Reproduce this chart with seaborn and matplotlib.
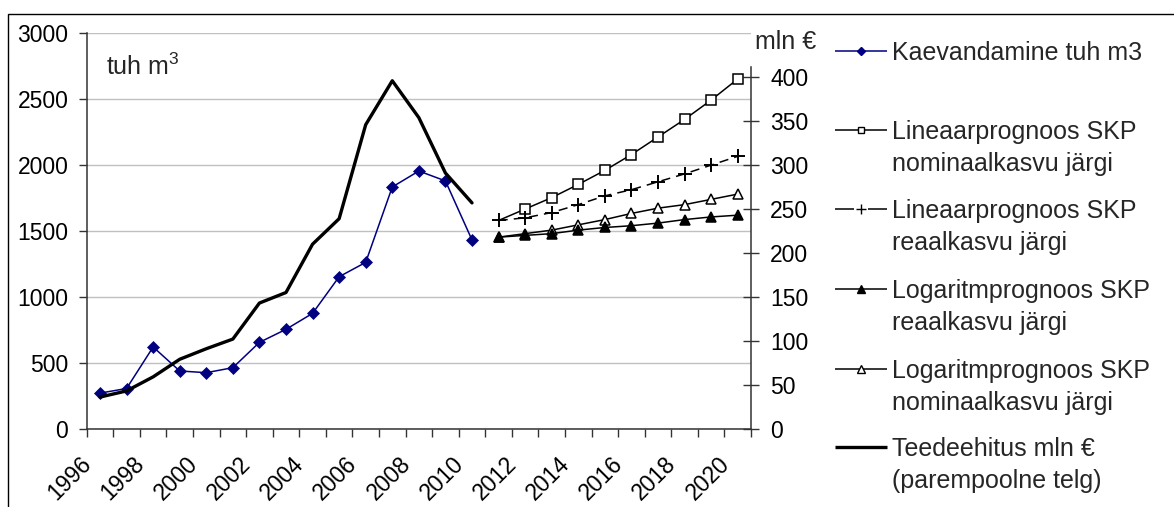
import numpy as np
import matplotlib
matplotlib.use("Agg")
import matplotlib.pyplot as plt
from matplotlib.lines import Line2D
from matplotlib.patches import Rectangle
import seaborn as sns

# Excavation (thousand m3, left axis) and road construction (mln EUR, right axis)
years_hist = list(range(1996, 2011))
kaevandamine = [270, 305, 620, 438, 425, 463, 655, 754, 875, 1153, 1262, 1834, 1955, 1880, 1432]
teedeehitus = [36, 43, 59, 79, 91, 102, 143, 155, 210, 239, 346, 396, 354, 291, 257]

# Forecasts of road construction (mln EUR, right axis)
years_fc = list(range(2011, 2021))
lin_nominal = [237, 250, 263, 278, 294, 312, 332, 352, 374, 398]
lin_real = [237, 240, 246, 255, 265, 272, 281, 290, 300, 310]
log_nominal = [218, 222, 226, 232, 238, 245, 251, 255, 261, 267]
log_real = [218, 220, 222, 226, 229, 231, 234, 238, 241, 243]

left_ticks = [0, 500, 1000, 1500, 2000, 2500, 3000]
right_ticks = [0, 50, 100, 150, 200, 250, 300, 350, 400]
year_labels = list(range(1996, 2021, 2))

legend_labels = [
    ["Kaevandamine tuh m3"],
    ["Lineaarprognoos SKP", "nominaalkasvu järgi"],
    ["Lineaarprognoos SKP", "reaalkasvu järgi"],
    ["Logaritmprognoos SKP", "reaalkasvu järgi"],
    ["Logaritmprognoos SKP", "nominaalkasvu järgi"],
    ["Teedeehitus mln €", "(parempoolne telg)"],
]

sns.set_theme(style="white")
plt.rcParams["font.family"] = ["Liberation Sans", "DejaVu Sans"]
plt.rcParams["mathtext.fontset"] = "custom"
plt.rcParams["mathtext.rm"] = "Liberation Sans"
plt.rcParams["mathtext.default"] = "regular"

W, H = 1174, 507
NAVY = "#000080"
AXC = "#333333"
TICK_FS = 16.5


def fx(x):
    return x / W


def fy(y):
    return 1 - y / H


fig = plt.figure(figsize=(W / 100, H / 100), dpi=100)
fig.patch.set_facecolor("white")
ax = fig.add_axes([fx(86.7), fy(428.7), (751 - 86.7) / W, (428.7 - 33.3) / H])
ax2 = ax.twinx()

# left axis series
sns.lineplot(x=years_hist, y=kaevandamine, ax=ax, color=NAVY, linewidth=1.1,
             marker="D", markersize=6.5, markerfacecolor=NAVY,
             markeredgecolor=NAVY, markeredgewidth=0.5, errorbar=None)

# right axis series
sns.lineplot(x=years_hist, y=teedeehitus, ax=ax2, color="black",
             linewidth=2.4, errorbar=None)
sns.lineplot(x=years_fc, y=lin_nominal, ax=ax2, color="black", linewidth=1.1,
             marker="s", markersize=6.5, markerfacecolor="white",
             markeredgecolor="black", markeredgewidth=1.1,
             markevery=list(range(1, len(years_fc))), errorbar=None)
sns.lineplot(x=years_fc, y=lin_real, ax=ax2, color="black", linewidth=1.1,
             linestyle=(0, (6, 4)), marker="+", markersize=10,
             markeredgecolor="black", markeredgewidth=1.4, errorbar=None)
sns.lineplot(x=years_fc, y=log_nominal, ax=ax2, color="black", linewidth=1.1,
             marker="^", markersize=7.5, markerfacecolor="white",
             markeredgecolor="black", markeredgewidth=1.1, errorbar=None)
sns.lineplot(x=years_fc, y=log_real, ax=ax2, color="black", linewidth=1.1,
             marker="^", markersize=7.5, markerfacecolor="black",
             markeredgecolor="black", markeredgewidth=1.1, errorbar=None)

# axes limits and ticks
ax.set_xlim(1995.5, 2020.5)
ax.set_ylim(0, 3000)
ax2.set_ylim(0, 450)
ax.set_yticks(left_ticks)
ax2.set_yticks(right_ticks)
ax.set_xticks(np.arange(1995.5, 2021, 1.0))
ax.set_xticklabels([])
ax.set_xticks([y - 0.45 for y in year_labels], minor=True)
ax.set_xticklabels([str(y) for y in year_labels], minor=True)
for lab in ax.get_xticklabels(minor=True):
    lab.set_rotation(45)
    lab.set_ha("right")
    lab.set_va("center")
    lab.set_rotation_mode("anchor")

ax.tick_params(axis="x", which="major", direction="out", length=5.8,
               width=1, color=AXC, bottom=True)
ax.tick_params(axis="x", which="minor", length=0, pad=23, labelsize=TICK_FS,
               bottom=True, labelcolor="black")
ax.tick_params(axis="y", direction="out", length=5.8, width=1, color=AXC,
               pad=7.4, labelsize=TICK_FS, left=True, labelcolor="black")
ax2.tick_params(axis="y", direction="inout", length=11.5, width=1, color=AXC,
                pad=8, labelsize=TICK_FS, right=True, labelcolor="black")

for a in (ax, ax2):
    a.set_xlabel("")
    a.set_ylabel("")
    for s in a.spines.values():
        s.set_visible(False)
ax.spines["left"].set_visible(True)
ax.spines["bottom"].set_visible(True)
ax2.spines["right"].set_visible(True)
for s in (ax.spines["left"], ax.spines["bottom"], ax2.spines["right"]):
    s.set_color(AXC)
    s.set_linewidth(1.1)
ax2.spines["right"].set_bounds(0, 412)

ax.yaxis.grid(True, color="#c0c0c0", linewidth=1)
ax.xaxis.grid(False)
ax2.grid(False)
ax.set_axisbelow(True)

# unit labels
fig.text(fx(106), fy(75), r"tuh m$^3$", fontsize=18, ha="left", va="baseline")
fig.text(fx(755), fy(49), "mln €", fontsize=18, ha="left", va="baseline")

# legend drawn beside the plot area
entry_y = [50.5, 130.4, 208.7, 288.7, 368.7, 447]
hx0, hx1, hxm = 835, 887, 861
styles = [
    dict(color=NAVY, lw=1.1, marker="D", ms=4.5, mfc=NAVY, mec=NAVY),
    dict(color="black", lw=1.1, marker="s", ms=5, mfc="white", mec="black"),
    dict(color="black", lw=1.1, marker="+", ms=7, mfc="black", mec="black", gap=True),
    dict(color="black", lw=1.1, marker="^", ms=5.5, mfc="black", mec="black"),
    dict(color="black", lw=1.1, marker="^", ms=5.5, mfc="white", mec="black"),
    dict(color="black", lw=2.4, marker=None),
]
for yc, lines, st in zip(entry_y, legend_labels, styles):
    if st.get("gap"):
        segs = [(hx0, hxm - 7), (hxm + 7, hx1)]
    else:
        segs = [(hx0, hx1)]
    for a0, a1 in segs:
        fig.add_artist(Line2D([fx(a0), fx(a1)], [fy(yc), fy(yc)],
                              transform=fig.transFigure, color=st["color"],
                              linewidth=st["lw"], solid_capstyle="butt"))
    if st["marker"]:
        fig.add_artist(Line2D([fx(hxm)], [fy(yc)], transform=fig.transFigure,
                              linestyle="none", marker=st["marker"],
                              markersize=st["ms"], markerfacecolor=st["mfc"],
                              markeredgecolor=st["mec"], markeredgewidth=1.0))
    for i, line in enumerate(lines):
        fig.text(fx(892), fy(yc + 9 + 32 * i), line, fontsize=18,
                 ha="left", va="baseline")

# chart frame
fig.add_artist(Rectangle((fx(8), fy(600)), 2.0, (600 - 14) / H,
                         transform=fig.transFigure, fill=False,
                         edgecolor="black", linewidth=1, clip_on=False))

fig.savefig("out.png", dpi=100, facecolor="white")
